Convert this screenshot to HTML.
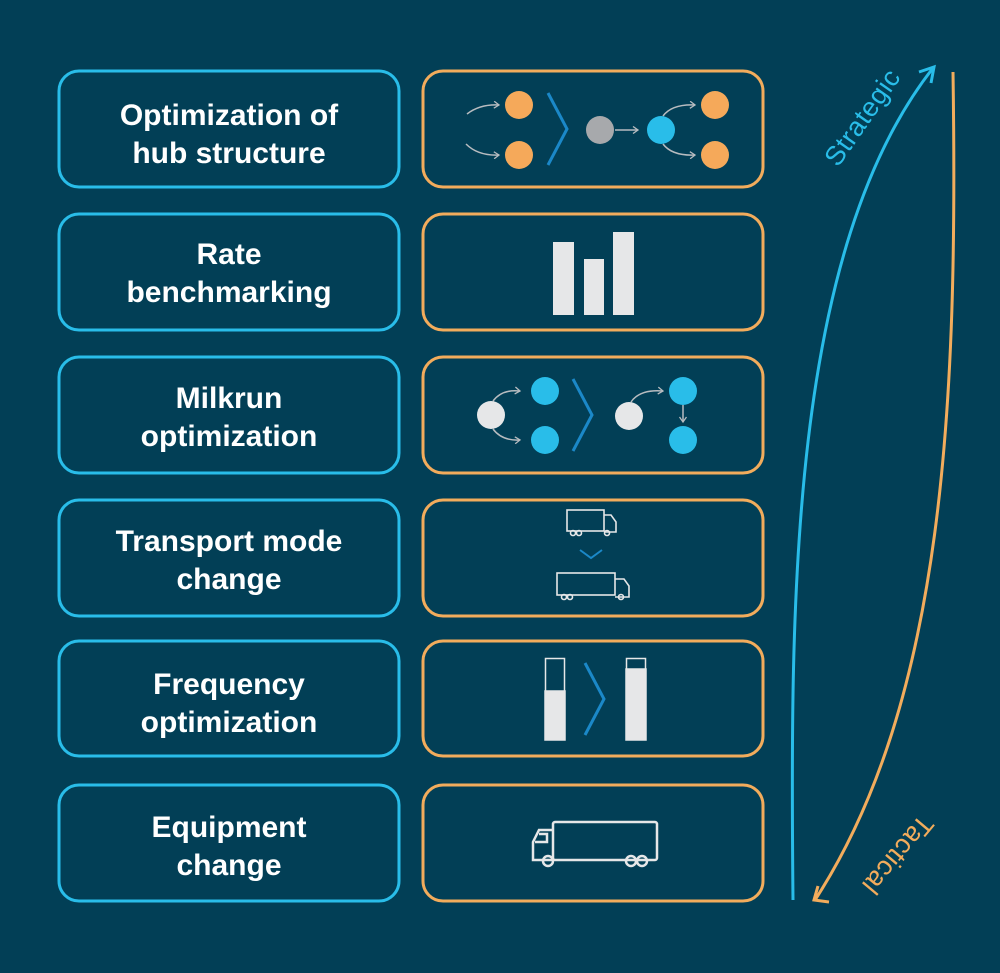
<!DOCTYPE html>
<html><head><style>
body{margin:0;background:#023f56;}
svg{display:block}
text{font-family:"Liberation Sans",sans-serif;}
</style></head><body>
<svg width="1000" height="973" viewBox="0 0 1000 973" xmlns="http://www.w3.org/2000/svg">
<rect width="1000" height="973" fill="#023f56"/>
<defs>
<marker id="ga" markerWidth="8" markerHeight="8" refX="6" refY="4" orient="auto" markerUnits="userSpaceOnUse"><path d="M1,0.5 L6,4 L1,7.5" fill="none" stroke="#b8bcc0" stroke-width="1.3"/></marker>
</defs>
<g fill="none" stroke-width="3">
<g stroke="#29bde9">
<rect x="59" y="71" width="340" height="116" rx="20"/>
<rect x="59" y="214" width="340" height="116" rx="20"/>
<rect x="59" y="357" width="340" height="116" rx="20"/>
<rect x="59" y="500" width="340" height="116" rx="20"/>
<rect x="59" y="641" width="340" height="115" rx="20"/>
<rect x="59" y="785" width="340" height="116" rx="20"/>
</g>
<g stroke="#f2ac5c">
<rect x="423" y="71" width="340" height="116" rx="20"/>
<rect x="423" y="214" width="340" height="116" rx="20"/>
<rect x="423" y="357" width="340" height="116" rx="20"/>
<rect x="423" y="500" width="340" height="116" rx="20"/>
<rect x="423" y="641" width="340" height="115" rx="20"/>
<rect x="423" y="785" width="340" height="116" rx="20"/>
</g>
</g>
<g fill="#fff" font-size="30" font-weight="bold" text-anchor="middle">
<text x="229" y="125">Optimization of</text><text x="229" y="163">hub structure</text>
<text x="229" y="264">Rate</text><text x="229" y="302">benchmarking</text>
<text x="229" y="408">Milkrun</text><text x="229" y="446">optimization</text>
<text x="229" y="551">Transport mode</text><text x="229" y="589">change</text>
<text x="229" y="694">Frequency</text><text x="229" y="732">optimization</text>
<text x="229" y="837">Equipment</text><text x="229" y="875">change</text>
</g>
<g stroke="#b8bcc0" stroke-width="1.5" fill="none" marker-end="url(#ga)">
<path d="M467,114 Q480,104 499,105"/>
<path d="M466,144 Q478,156 499,155"/>
<path d="M615,130 L638,130"/>
<path d="M663,116 Q672,104 695,105"/>
<path d="M663,144 Q672,156 695,155"/>
<path d="M493,401 Q502,389 520,391"/>
<path d="M493,429 Q502,441 520,440"/>
<path d="M631,402 Q640,389 663,391"/>
<path d="M683,405 L683,422"/>
</g>
<g fill="#f5a95a"><circle cx="519" cy="105" r="14"/><circle cx="519" cy="155" r="14"/><circle cx="715" cy="105" r="14"/><circle cx="715" cy="155" r="14"/></g>
<circle cx="600" cy="130" r="14" fill="#a7a9ac"/>
<circle cx="661" cy="130" r="14" fill="#29bde9"/>
<g fill="none" stroke="#1b88c8" stroke-width="3">
<path d="M548,93 L567,129 L548,165"/>
<path d="M573,379 L592,415 L573,451"/>
<path d="M585,663 L604,699 L585,735"/>
<path d="M580,550 L591,558 L602,550" stroke-width="2"/>
</g>
<g fill="#e6e7e8"><rect x="553" y="242" width="21" height="73"/><rect x="584" y="259" width="20" height="56"/><rect x="613" y="232" width="21" height="83"/></g>
<g fill="#e6e7e8"><circle cx="491" cy="415" r="14"/><circle cx="629" cy="416" r="14"/></g>
<g fill="#29bde9"><circle cx="545" cy="391" r="14"/><circle cx="545" cy="440" r="14"/><circle cx="683" cy="391" r="14"/><circle cx="683" cy="440" r="14"/></g>
<g fill="none" stroke="#e6e7e8" stroke-width="1.6">
<rect x="567" y="510" width="37" height="21"/>
<path d="M604,515 h7 l5,7 v10 h-12"/>
<circle cx="573" cy="533" r="2.5"/><circle cx="579" cy="533" r="2.5"/><circle cx="607" cy="533" r="2.5"/>
<rect x="557" y="573" width="58" height="22"/>
<path d="M615,579 h9 l5,7 v11 h-14"/>
<circle cx="564" cy="597" r="2.5"/><circle cx="570" cy="597" r="2.5"/><circle cx="621" cy="597" r="2.5"/>
</g>
<g fill="#e6e7e8" stroke="#e6e7e8" stroke-width="1.5">
<rect x="545.5" y="658.5" width="19" height="81" fill="none"/><rect x="545" y="691" width="20" height="49"/>
<rect x="626.5" y="658.5" width="19" height="81" fill="none"/><rect x="626" y="669" width="20" height="71"/>
</g>
<g fill="none" stroke="#e6e7e8" stroke-width="2.5">
<rect x="553" y="822" width="104" height="38" rx="2"/>
<path d="M553,830 h-14 l-6,12 v18 h20"/>
<path d="M539,834 h8 v8 h-12"/>
<circle cx="548" cy="861" r="5"/><circle cx="631" cy="861" r="5"/><circle cx="642" cy="861" r="5"/>
</g>
<path d="M793,900 C790,600 790,250 933,68" fill="none" stroke="#29bde9" stroke-width="3"/>
<path d="M919,72 L934,67 L931,83" fill="none" stroke="#29bde9" stroke-width="3"/>
<path d="M953,72 C958,400 945,700 815,900" fill="none" stroke="#f2ac5c" stroke-width="3"/>
<path d="M829,902 L814,900 L818,886" fill="none" stroke="#f2ac5c" stroke-width="3"/>
<text x="0" y="0" font-size="27" fill="#29bde9" letter-spacing="0.5" transform="translate(838,168) rotate(-55)">Strategic</text>
<text x="0" y="0" font-size="27" fill="#f2ac5c" letter-spacing="0.5" transform="translate(921,813) rotate(130)">Tactical</text>
</svg>
</body></html>
